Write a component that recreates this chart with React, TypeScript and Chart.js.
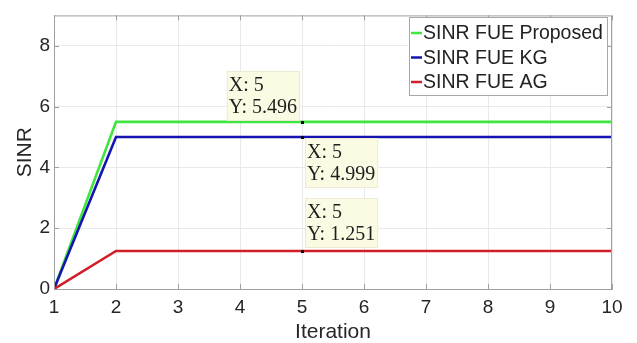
import React, { useEffect, useRef } from "react";
import { Chart, registerables } from "chart.js";

Chart.register(...registerables);

const iterations = [1, 2, 3, 4, 5, 6, 7, 8, 9, 10];
const sinrProposed = [0, 5.496, 5.496, 5.496, 5.496, 5.496, 5.496, 5.496, 5.496, 5.496];
const sinrKG = [0, 4.999, 4.999, 4.999, 4.999, 4.999, 4.999, 4.999, 4.999, 4.999];
const sinrAG = [0, 1.251, 1.251, 1.251, 1.251, 1.251, 1.251, 1.251, 1.251, 1.251];
const seriesLabels = ["SINR FUE Proposed", "SINR FUE KG", "SINR FUE AG"];
const seriesColors = ["#3ee63e", "#1414b0", "#d21e28"];
// data tips: [series index, x value, placement]
const tipSeries = [0, 1, 2];
const tipX = [5, 5, 5];
const tipPlacement = ["upLeft", "downRight", "upRight"];

const FRAME = "#a0a0a0";

const framePlugin = {
  id: "frameTicks",
  afterDatasetsDraw(chart: any) {
    const { ctx, chartArea: a, scales } = chart;
    ctx.save();
    ctx.strokeStyle = FRAME;
    ctx.lineWidth = 1;
    ctx.strokeRect(a.left + 0.5, a.top + 0.5, a.right - a.left - 1, a.bottom - a.top);
    const tl = 5;
    ctx.beginPath();
    scales.x.ticks.forEach((t: any) => {
      const px = Math.round(scales.x.getPixelForValue(t.value)) + 0.5;
      ctx.moveTo(px, a.bottom);
      ctx.lineTo(px, a.bottom - tl);
      ctx.moveTo(px, a.top);
      ctx.lineTo(px, a.top + tl);
    });
    scales.y.ticks.forEach((t: any) => {
      const py = Math.round(scales.y.getPixelForValue(t.value)) + 0.5;
      ctx.moveTo(a.left, py);
      ctx.lineTo(a.left + tl, py);
      ctx.moveTo(a.right, py);
      ctx.lineTo(a.right - tl, py);
    });
    ctx.stroke();

    // data tips
    const xs = scales.x;
    const ys = scales.y;
    ctx.font = '20px "Liberation Serif", "Times New Roman", serif';
    tipSeries.forEach((si, k) => {
      const xv = tipX[k];
      const idx = iterations.indexOf(xv);
      const yv = chart.data.datasets[si].data[idx];
      const px = xs.getPixelForValue(xv);
      const py = ys.getPixelForValue(yv);
      const l1 = "X: " + xv;
      const l2 = "Y: " + yv.toFixed(3);
      const w = Math.max(ctx.measureText(l1).width, ctx.measureText(l2).width) + 5;
      const h = 50;
      let bx = 0, by = 0;
      const pl = tipPlacement[k];
      if (pl === "upLeft") { bx = px - 2 - w; by = py - 1 - h; }
      else if (pl === "downRight") { bx = px + 3; by = py + 1; }
      else { bx = px + 3; by = py - 3 - h; }
      ctx.fillStyle = "#fbfbe4";
      ctx.fillRect(bx, by, w, h);
      ctx.strokeStyle = "#ecead4";
      ctx.strokeRect(bx + 0.5, by + 0.5, w - 1, h - 1);
      ctx.fillStyle = "#1e1e1e";
      ctx.textBaseline = "alphabetic";
      ctx.textAlign = "left";
      ctx.fillText(l1, bx + 2, by + 20);
      ctx.fillText(l2, bx + 2, by + 42);
      ctx.fillStyle = "#000";
      ctx.fillRect(Math.round(px) - 1, Math.round(py) - 1, 3, 3);
    });

    // legend
    const lx = 409, ly = 17, lw = 198, lh = 78;
    ctx.fillStyle = "#ffffff";
    ctx.fillRect(lx, ly, lw, lh);
    ctx.strokeStyle = "#a8a8a8";
    ctx.strokeRect(lx + 0.5, ly + 0.5, lw, lh);
    ctx.font = '19.5px "Liberation Sans", Arial, sans-serif';
    ctx.textBaseline = "middle";
    chart.data.datasets.forEach((ds: any, i: number) => {
      const cy = ly + 16 + i * 24.5;
      ctx.strokeStyle = ds.borderColor;
      ctx.lineWidth = 2.5;
      ctx.beginPath();
      ctx.moveTo(lx + 2, cy);
      ctx.lineTo(lx + 13, cy);
      ctx.stroke();
      ctx.fillStyle = "#222";
      ctx.fillText(ds.label, lx + 14, cy + 1);
    });
    ctx.restore();
  },
};

export default function App() {
  const ref = useRef<HTMLCanvasElement>(null);
  useEffect(() => {
    document.body.style.margin = "0";
    const datasets = [sinrProposed, sinrKG, sinrAG].map((vals, i) => ({
      label: seriesLabels[i],
      data: vals,
      borderColor: seriesColors[i],
      backgroundColor: seriesColors[i],
      borderWidth: 2.6,
      pointRadius: 0,
      tension: 0,
      fill: false,
      order: 3 - i,
    }));
    const chart = new Chart(ref.current!, {
      type: "line",
      data: { labels: iterations, datasets: datasets as any },
      options: {
        animation: false,
        responsive: true,
        maintainAspectRatio: false,
        devicePixelRatio: 1,
        layout: { padding: { left: 0, top: 14, right: 25, bottom: 0 } },
        plugins: { legend: { display: false }, tooltip: { enabled: false } },
        scales: {
          x: {
            type: "linear",
            min: 1,
            max: 10,
            ticks: { stepSize: 1, color: "#262626", padding: 7, font: { family: '"Liberation Sans", Arial, sans-serif', size: 19 } },
            grid: { color: "#e9e9e9", drawTicks: false },
            border: { display: true, color: FRAME },
            title: { display: true, text: "Iteration", color: "#262626", padding: { top: 0, bottom: 0 }, font: { family: '"Liberation Sans", Arial, sans-serif', size: 21, lineHeight: 1 } },
            afterFit: (s: any) => { s.height = 54; },
          },
          y: {
            min: 0,
            max: 9,
            ticks: { stepSize: 2, includeBounds: false, color: "#262626", padding: 4, font: { family: '"Liberation Sans", Arial, sans-serif', size: 19 } },
            grid: { color: "#e9e9e9", drawTicks: false },
            border: { display: true, color: FRAME },
            title: { display: true, text: "SINR", color: "#262626", padding: { top: 14.5, bottom: 0 }, font: { family: '"Liberation Sans", Arial, sans-serif', size: 21, lineHeight: 1 } },
            afterFit: (s: any) => { s.width = 54; },
          },
        },
      } as any,
      plugins: [framePlugin],
    });
    return () => chart.destroy();
  }, []);
  return (
    <div style={{ width: 637, height: 343, position: "relative", background: "#fff" }}>
      <canvas ref={ref} />
    </div>
  );
}
